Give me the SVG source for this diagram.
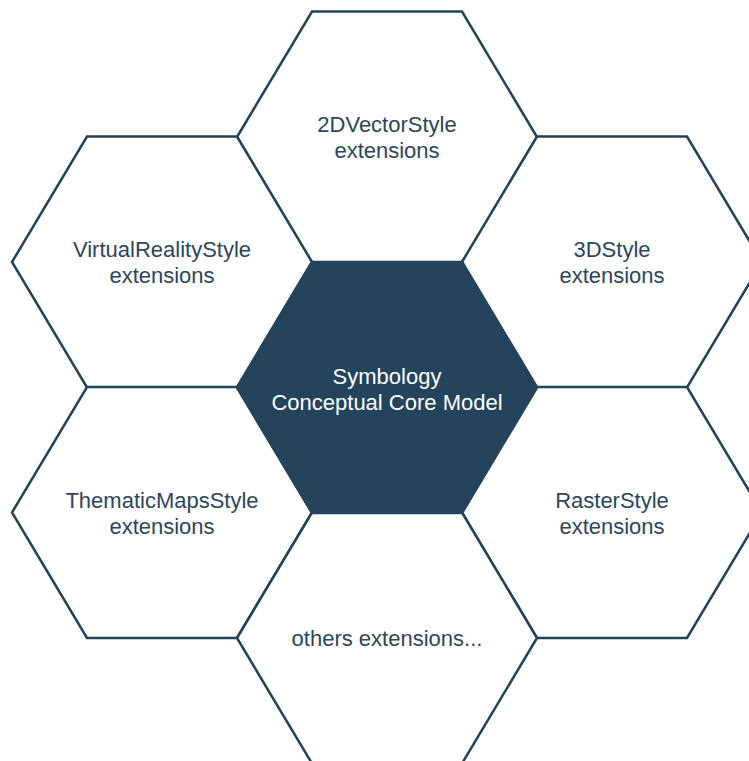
<svg xmlns="http://www.w3.org/2000/svg" width="749" height="761" viewBox="0 0 749 761">
<defs>
<style>
.hex{fill:#ffffff;stroke:#23435a;stroke-width:2.5;stroke-linejoin:miter}
.core{fill:#23445c;stroke:#23445c;stroke-width:2.5}
.t{font-family:"Liberation Sans",Arial,sans-serif;font-size:22px;fill:#2e4659;text-anchor:middle}
.tw{font-family:"Liberation Sans",Arial,sans-serif;font-size:22px;fill:#ffffff;text-anchor:middle}
</style>
<polygon id="hexshape" points="-150,0 -75,-125.5 75,-125.5 150,0 75,125.5 -75,125.5"/>
</defs>
<rect width="749" height="761" fill="#ffffff"/>
<g id="connectors"></g>
<g id="n2d" transform="translate(387,137)">
<use href="#hexshape" class="hex"/>
<text class="t" x="0" y="-5">2DVectorStyle</text>
<text class="t" x="0" y="21">extensions</text>
</g>
<g id="nvr" transform="translate(162,262)">
<use href="#hexshape" class="hex"/>
<text class="t" x="0" y="-5">VirtualRealityStyle</text>
<text class="t" x="0" y="21">extensions</text>
</g>
<g id="n3d" transform="translate(612,262)">
<use href="#hexshape" class="hex"/>
<text class="t" x="0" y="-5">3DStyle</text>
<text class="t" x="0" y="21">extensions</text>
</g>
<g id="ntm" transform="translate(162,512.5)">
<use href="#hexshape" class="hex"/>
<text class="t" x="0" y="-5">ThematicMapsStyle</text>
<text class="t" x="0" y="21">extensions</text>
</g>
<g id="nraster" transform="translate(612,512.5)">
<use href="#hexshape" class="hex"/>
<text class="t" x="0" y="-5">RasterStyle</text>
<text class="t" x="0" y="21">extensions</text>
</g>
<g id="nothers" transform="translate(387,638)">
<use href="#hexshape" class="hex"/>
<text class="t" x="0" y="8">others extensions...</text>
</g>
<g id="ncore" transform="translate(387,387.5)">
<use href="#hexshape" class="core"/>
<text class="tw" x="0" y="-4">Symbology</text>
<text class="tw" x="0" y="22">Conceptual Core Model</text>
</g>
</svg>
